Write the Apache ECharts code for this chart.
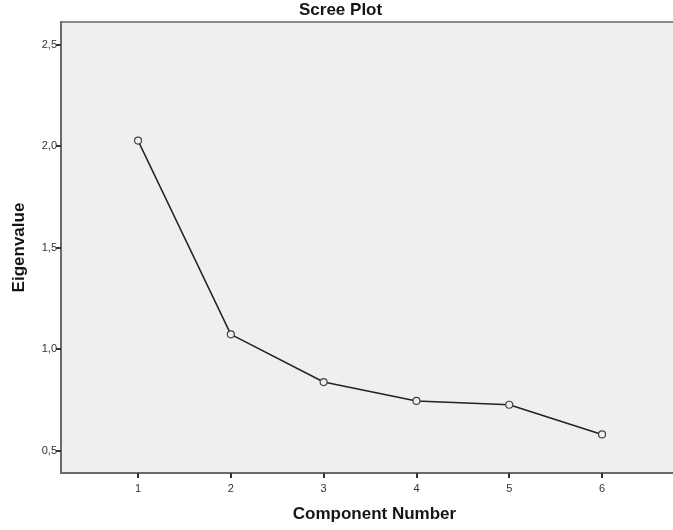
<!DOCTYPE html>
<html><head><meta charset="utf-8">
<script src="https://cdn.jsdelivr.net/npm/echarts@6/dist/echarts.min.js"></script>
<style>html,body{margin:0;padding:0;background:#fff;overflow:hidden}#c{width:680px;height:530px}</style>
</head><body><div id="c"></div>
<script>
const components = [1, 2, 3, 4, 5, 6];
const eigenvalues = [2.027, 1.073, 0.838, 0.745, 0.726, 0.580];
const xTicks = [1, 2, 3, 4, 5, 6];
const yTicks = [0.5, 1.0, 1.5, 2.0, 2.5];
const titleText = 'Scree Plot';
const xName = 'Component Number';
const yName = 'Eigenvalue';

const font = 'Liberation Sans, Arial, sans-serif';
const chart = echarts.init(document.getElementById('c'), null, {renderer: 'canvas'});
chart.setOption({
  animation: false,
  backgroundColor: '#ffffff',
  title: {
    text: titleText, left: 299, top: 2, padding: 0,
    textStyle: {fontFamily: font, fontSize: 17, fontWeight: 'bold', color: '#151515'}
  },
  grid: {
    left: 61, top: 22, right: 0, bottom: 57,
    show: true, backgroundColor: '#efefef', borderColor: '#8a8a8a', borderWidth: 2
  },
  xAxis: {
    type: 'value', min: 0.17, max: 6.84,
    name: xName, nameLocation: 'middle', nameGap: 33,
    nameTextStyle: {fontFamily: font, fontSize: 17, fontWeight: 'bold', color: '#151515', padding: [0, 0, 0, 8]},
    axisLine: {show: true, onZero: false, lineStyle: {color: '#6a6a6a', width: 2}},
    axisTick: {show: true, customValues: xTicks, length: 5, lineStyle: {color: '#333', width: 2}},
    axisLabel: {customValues: xTicks, fontFamily: font, fontSize: 11, color: '#333', margin: 10},
    splitLine: {show: false}
  },
  yAxis: {
    type: 'value', min: 0.39, max: 2.611,
    name: yName, nameLocation: 'middle', nameGap: 33, nameRotate: 90,
    nameTextStyle: {fontFamily: font, fontSize: 17, fontWeight: 'bold', color: '#151515'},
    axisLine: {show: true, onZero: false, lineStyle: {color: '#6a6a6a', width: 2}},
    axisTick: {show: true, customValues: yTicks, length: 5, lineStyle: {color: '#333', width: 2}},
    axisLabel: {customValues: yTicks, fontFamily: font, fontSize: 11, color: '#333', margin: 4,
      formatter: v => v.toFixed(1).replace('.', ',')},
    splitLine: {show: false}
  },
  series: [{
    type: 'line',
    data: components.map((c, i) => [c, eigenvalues[i]]),
    symbol: 'circle', symbolSize: 7,
    lineStyle: {color: '#222', width: 1.5},
    itemStyle: {color: '#efefef', borderColor: '#444', borderWidth: 1.2}
  }]
});
</script></body></html>
